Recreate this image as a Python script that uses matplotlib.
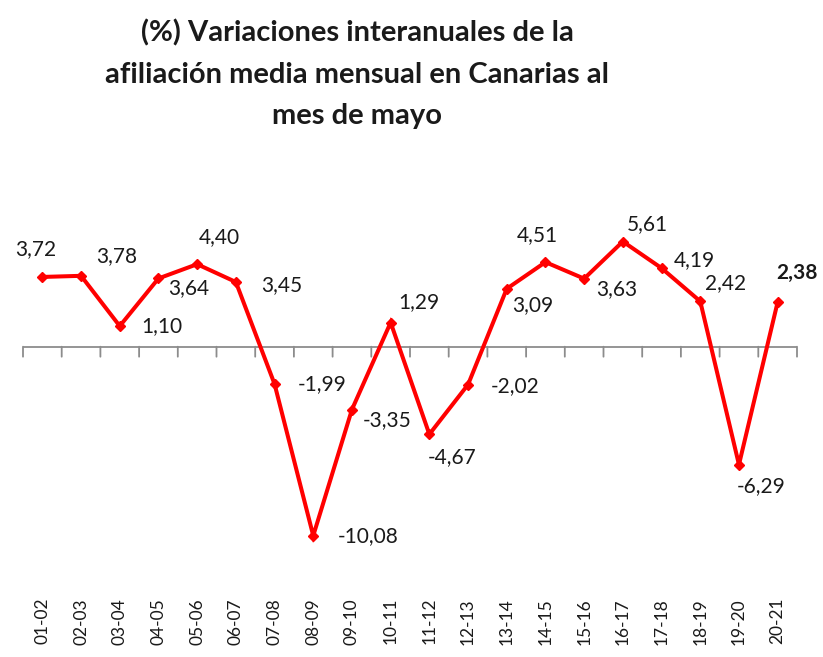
import matplotlib
matplotlib.use("Agg")
import matplotlib.pyplot as plt
import numpy as np

categories = ["01-02", "02-03", "03-04", "04-05", "05-06", "06-07", "07-08", "08-09", "09-10", "10-11",
              "11-12", "12-13", "13-14", "14-15", "15-16", "16-17", "17-18", "18-19", "19-20", "20-21"]
values = [3.72, 3.78, 1.10, 3.64, 4.40, 3.45, -1.99, -10.08, -3.35, 1.29,
          -4.67, -2.02, 3.09, 4.51, 3.63, 5.61, 4.19, 2.42, -6.29, 2.38]
title = "(%) Variaciones interanuales de la\nafiliación media mensual en Canarias al\nmes de mayo"

# label offsets in pixels (dx, dy; dy positive = up)
label_offsets = [(-7, 28), (36, 20), (42, 0), (30, -10), (22, 27), (46, -3), (48, 0), (55, 0),
                 (35, -11), (28, 20), (23, -23), (47, -2), (26, -16), (-8, 27), (33, -10),
                 (25, 17), (33, 8), (25, 18), (22, -21), (19, 29)]

W, H = 823, 657
fig = plt.figure(figsize=(W / 100, H / 100), dpi=100)
fig.patch.set_facecolor("white")

x0, x1 = 23, 797
ytop, ybot = 196.7, 571.7
ax = fig.add_axes([x0 / W, 1 - ybot / H, (x1 - x0) / W, (ybot - ytop) / H])
ax.set_xlim(-0.5, len(categories) - 0.5)
ax.set_ylim(-12, 8)
ax.axis("off")

x = np.arange(len(categories))
# zero axis with tick marks at category boundaries
ax.axhline(0, color="#8c8c8c", lw=1.3, zorder=1)
for b in np.arange(-0.5, len(categories), 1.0):
    ax.annotate("", xy=(b, 0), xytext=(0, -10), textcoords="offset pixels",
                arrowprops=dict(arrowstyle="-", color="#8c8c8c", lw=1.3, shrinkA=0, shrinkB=0))

ax.plot(x, values, color="#ff0000", lw=2.9, marker="D", markersize=5,
        markerfacecolor="#ff0000", markeredgecolor="#ff0000", zorder=3, solid_joinstyle="miter")

for i, (v, (dx, dy)) in enumerate(zip(values, label_offsets)):
    txt = f"{v:.2f}".replace(".", ",")
    ax.annotate(txt, xy=(i, v), xytext=(dx, dy), textcoords="offset pixels",
                ha="center", va="center", fontsize=15, family="Lato",
                fontweight="bold" if i == len(values) - 1 else "normal",
                color="#1a1a1a", zorder=4)

lab_trans = ax.get_xaxis_transform()
for i, c in enumerate(categories):
    ax.annotate(c, xy=(i, 0), xycoords=lab_trans, xytext=(0, -(598 - ybot)),
                textcoords="offset pixels", rotation=90, ha="center", va="top",
                fontsize=12.5, family="Lato", color="#1a1a1a", annotation_clip=False)

fig.text(357 / W, 1 - 74 / H, title, ha="center", va="center", fontsize=21, fontweight="bold",
         family="Lato", color="#1a1a1a", linespacing=1.72)

fig.savefig("out.png", dpi=100, facecolor="white")
